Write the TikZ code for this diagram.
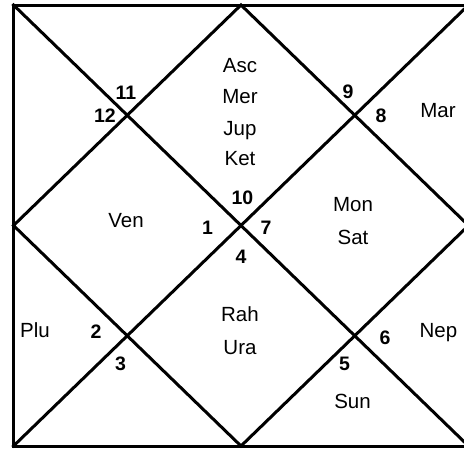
\documentclass[tikz,border=0pt]{standalone}
\usepackage{fontspec}
\setmainfont{Liberation Sans}
\begin{document}
\begin{tikzpicture}[x=1pt,y=-1pt,
  chartline/.style={line width=3pt, line cap=rect},
  planet/.style={inner sep=0pt, text height=14.7pt, text depth=0pt, anchor=center, font=\fontsize{20.5}{24}\selectfont},
  housenum/.style={inner sep=0pt, text height=13.9pt, text depth=0pt, anchor=center, font=\fontsize{19.5}{23}\selectfont\bfseries}]
\useasboundingbox (0,0) rectangle (464,448);
\clip (0,0) rectangle (464,448);
\coordinate (TL) at (13.5,5);
\coordinate (TR) at (468.5,5);
\coordinate (BL) at (13.5,446);
\coordinate (BR) at (468.5,446);
\coordinate (TM) at (241,5);
\coordinate (BM) at (241,446);
\coordinate (LM) at (13.5,225.5);
\coordinate (RM) at (468.5,225.5);
\draw[chartline] (TL) -- (TR) -- (BR) -- (BL) -- cycle;
\draw[chartline] (TL) -- (BR);
\draw[chartline] (TR) -- (BL);
\draw[chartline] (TM) -- (RM) -- (BM) -- (LM) -- cycle;
% planets
\node[planet] (asc) at (240,65) {Asc};
\node[planet] (mer) at (240,96.5) {Mer};
\node[planet] (jup) at (240,128) {Jup};
\node[planet] (ket) at (240,158) {Ket};
\node[planet] (mar) at (438,110) {Mar};
\node[planet] (ven) at (126,220) {Ven};
\node[planet] (mon) at (353,204) {Mon};
\node[planet] (sat) at (353,237) {Sat};
\node[planet] (plu) at (35,330) {Plu};
\node[planet] (rah) at (240,314) {Rah};
\node[planet] (ura) at (240,347) {Ura};
\node[planet] (nep) at (438.5,330.5) {Nep};
\node[planet] (sun) at (352.5,401.5) {Sun};
% house numbers
\node[housenum] (h11) at (126,93) {11};
\node[housenum] (h12) at (105,116) {12};
\node[housenum] (h9) at (348,92) {9};
\node[housenum] (h8) at (381,116) {8};
\node[housenum] (h10) at (242.5,197.5) {10};
\node[housenum] (h1) at (207.5,228) {1};
\node[housenum] (h7) at (266,228) {7};
\node[housenum] (h4) at (241,256.5) {4};
\node[housenum] (h2) at (96,331.5) {2};
\node[housenum] (h3) at (120.5,363.5) {3};
\node[housenum] (h6) at (385,337.5) {6};
\node[housenum] (h5) at (344.5,364) {5};
\end{tikzpicture}
\end{document}
